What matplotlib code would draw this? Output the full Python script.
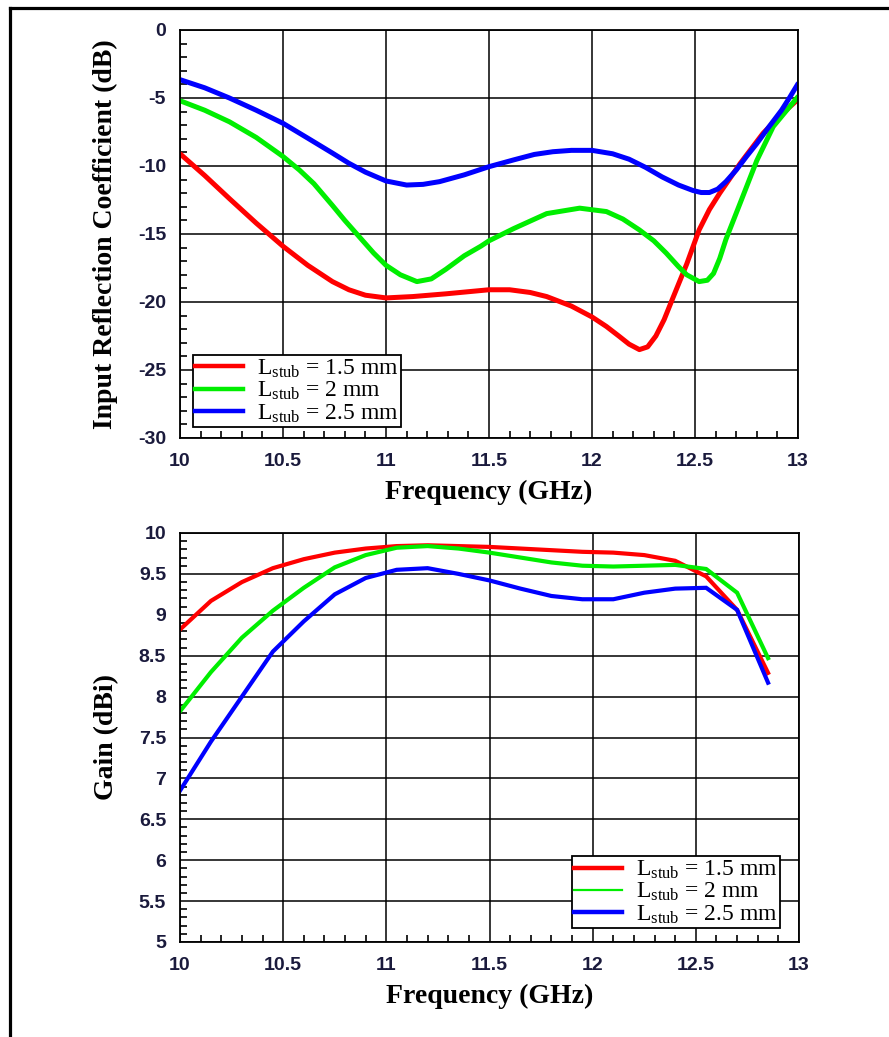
import matplotlib
matplotlib.use("Agg")
import matplotlib.pyplot as plt
from matplotlib.lines import Line2D
from matplotlib.ticker import MultipleLocator

plt.rcParams['axes.unicode_minus'] = False
plt.rcParams['mathtext.fontset'] = 'custom'
plt.rcParams['mathtext.rm'] = 'Liberation Serif'
plt.rcParams['mathtext.it'] = 'Liberation Serif:italic'

LABELS = [r'L$_{\rm stub}$ = 1.5 mm', r'L$_{\rm stub}$ = 2 mm', r'L$_{\rm stub}$ = 2.5 mm']
COLORS = ['#ff0000', '#00ee00', '#0000ff']

# S11 (dB) per stub length
s11_f_15 = [10.0, 10.12, 10.24, 10.37, 10.5, 10.62, 10.74, 10.82, 10.9, 11.0, 11.13, 11.29,
            11.5, 11.6, 11.7, 11.78, 11.9, 12.0, 12.07, 12.13, 12.18, 12.23, 12.27, 12.31,
            12.35, 12.39, 12.46, 12.52, 12.57, 12.62, 12.72, 12.83, 12.92, 13.0]
s11_15 = [-9.1, -10.7, -12.4, -14.2, -15.9, -17.3, -18.5, -19.1, -19.5, -19.7, -19.6, -19.4,
          -19.1, -19.1, -19.3, -19.6, -20.3, -21.1, -21.8, -22.5, -23.1, -23.5, -23.3, -22.5,
          -21.3, -19.8, -17.2, -14.7, -13.2, -12.0, -9.8, -7.6, -6.2, -5.1]

s11_f_20 = [10.0, 10.12, 10.24, 10.37, 10.5, 10.58, 10.65, 10.74, 10.8, 10.87, 10.94, 11.0,
            11.07, 11.15, 11.22, 11.29, 11.38, 11.46, 11.5, 11.62, 11.78, 11.94, 12.07, 12.15,
            12.23, 12.3, 12.36, 12.42, 12.46, 12.52, 12.56, 12.59, 12.62, 12.65, 12.72, 12.8,
            12.88, 12.94, 13.0]
s11_20 = [-5.2, -5.9, -6.75, -7.9, -9.3, -10.3, -11.3, -12.9, -14.0, -15.2, -16.4, -17.3,
          -18.0, -18.5, -18.3, -17.6, -16.6, -15.9, -15.5, -14.6, -13.5, -13.1, -13.35, -13.9,
          -14.7, -15.5, -16.4, -17.4, -18.0, -18.5, -18.4, -17.9, -16.8, -15.4, -12.7, -9.6,
          -7.1, -6.0, -4.9]

s11_f_25 = [10.0, 10.12, 10.24, 10.37, 10.5, 10.62, 10.74, 10.82, 10.9, 11.0, 11.1, 11.18,
            11.26, 11.38, 11.5, 11.62, 11.72, 11.81, 11.9, 12.0, 12.1, 12.18, 12.26, 12.34,
            12.42, 12.49, 12.53, 12.57, 12.61, 12.65, 12.7, 12.75, 12.8, 12.86, 12.92, 12.96, 13.0]
s11_25 = [-3.65, -4.25, -5.0, -5.9, -6.86, -7.95, -9.05, -9.8, -10.45, -11.1, -11.4, -11.35,
          -11.15, -10.65, -10.05, -9.55, -9.15, -8.95, -8.85, -8.85, -9.1, -9.5, -10.1, -10.8,
          -11.4, -11.8, -11.95, -11.95, -11.7, -11.15, -10.3, -9.3, -8.35, -7.1, -5.9, -4.95, -3.95]

# gain (dBi), simulated every 0.15 GHz
gain_f = [10.0, 10.15, 10.3, 10.45, 10.6, 10.75, 10.9, 11.05, 11.2, 11.35,
          11.5, 11.65, 11.8, 11.95, 12.1, 12.25, 12.4, 12.55, 12.7, 12.85]
gain_15 = [8.82, 9.17, 9.4, 9.57, 9.68, 9.76, 9.81, 9.84, 9.85, 9.84,
           9.83, 9.81, 9.79, 9.77, 9.76, 9.73, 9.66, 9.47, 9.06, 8.29]
gain_20 = [7.82, 8.3, 8.72, 9.05, 9.33, 9.58, 9.73, 9.82, 9.84, 9.81,
           9.76, 9.7, 9.64, 9.6, 9.59, 9.6, 9.61, 9.56, 9.27, 8.47]
gain_25 = [6.85, 7.45, 8.0, 8.55, 8.92, 9.25, 9.45, 9.55, 9.57, 9.5,
           9.42, 9.32, 9.23, 9.19, 9.19, 9.27, 9.32, 9.33, 9.06, 8.17]

x_ticks = [10, 10.5, 11, 11.5, 12, 12.5, 13]
x_tick_labels = ['10', '10.5', '11', '11.5', '12', '12.5', '13']
gain_ticks = [5, 5.5, 6, 6.5, 7, 7.5, 8, 8.5, 9, 9.5, 10]
gain_tick_labels = ['5', '5.5', '6', '6.5', '7', '7.5', '8', '8.5', '9', '9.5', '10']

TICK_COLOR = '#1a1a3c'
label_font = dict(family='Liberation Serif', weight='bold', size=20, color='black')


def style_axes(ax):
    ax.grid(True, which='major', color='black', linewidth=1.1)
    ax.tick_params(which='both', direction='in', top=False, right=False,
                   labelcolor=TICK_COLOR)
    ax.tick_params(axis='x', which='major', length=0, pad=11)
    ax.tick_params(axis='y', which='major', length=0, pad=10)
    ax.tick_params(which='minor', length=5, width=1.2, color='black')
    for sp in ax.spines.values():
        sp.set_linewidth(1.3)
    for lab in ax.get_xticklabels() + ax.get_yticklabels():
        lab.set_fontproperties(matplotlib.font_manager.FontProperties(
            family='Liberation Sans', weight='bold', size=14))
    ax.set_axisbelow(True)


def add_legend(ax, widths, **kw):
    handles = [Line2D([], [], color=c, lw=w) for c, w in zip(COLORS, widths)]
    leg = ax.legend(handles, LABELS, prop=dict(family='Liberation Serif', size=17),
                    frameon=True, fancybox=False, framealpha=1, edgecolor='black',
                    handlelength=2.0, handletextpad=0.6, labelspacing=0.0,
                    borderpad=0.1, borderaxespad=0, **kw)
    leg.get_frame().set_linewidth(1.3)
    return leg


fig = plt.figure(figsize=(8.89, 10.37), dpi=100)

# outer frame
fig.add_artist(Line2D([10 / 889, 10 / 889], [0, 1 - 8 / 1037], color='black', lw=2.3))
fig.add_artist(Line2D([10 / 889, 1], [1 - 8 / 1037, 1 - 8 / 1037], color='black', lw=2.3))

# input reflection coefficient
ax1 = fig.add_axes([180 / 889, 1 - 438 / 1037, 618 / 889, 408 / 1037])
for f, s, c in zip([s11_f_15, s11_f_20, s11_f_25], [s11_15, s11_20, s11_25], COLORS):
    ax1.plot(f, s, color=c, lw=3.6, solid_capstyle='round', solid_joinstyle='round')
ax1.set_xlim(10, 13)
ax1.set_ylim(-30, 0)
ax1.xaxis.set_minor_locator(MultipleLocator(0.1))
ax1.yaxis.set_major_locator(MultipleLocator(5))
ax1.yaxis.set_minor_locator(MultipleLocator(1))
ax1.set_xticks(x_ticks, x_tick_labels)
style_axes(ax1)
ax1.set_xlabel('Frequency (GHz)', fontdict=label_font, labelpad=7)
ax1.set_ylabel('Input Reflection Coefficient (dB)', fontdict=label_font, labelpad=14)
add_legend(ax1, [3.2, 3.2, 3.2], loc='lower left', bbox_to_anchor=(0.021, 0.027))

# gain
ax2 = fig.add_axes([180 / 889, 1 - 942 / 1037, 619 / 889, 409 / 1037])
for g, c in zip([gain_15, gain_20, gain_25], COLORS):
    ax2.plot(gain_f, g, color=c, lw=3.0, solid_joinstyle='miter')
ax2.set_xlim(10, 13)
ax2.set_ylim(5, 10)
ax2.xaxis.set_minor_locator(MultipleLocator(0.1))
ax2.yaxis.set_minor_locator(MultipleLocator(0.1))
ax2.set_xticks(x_ticks, x_tick_labels)
ax2.set_yticks(gain_ticks, gain_tick_labels)
style_axes(ax2)
ax2.set_xlabel('Frequency (GHz)', fontdict=label_font, labelpad=7)
ax2.set_ylabel('Gain (dBi)', fontdict=label_font, labelpad=14)
add_legend(ax2, [3.2, 1.6, 3.2], loc='lower right', bbox_to_anchor=(0.969, 0.034))

fig.savefig('out.png', dpi=100)
